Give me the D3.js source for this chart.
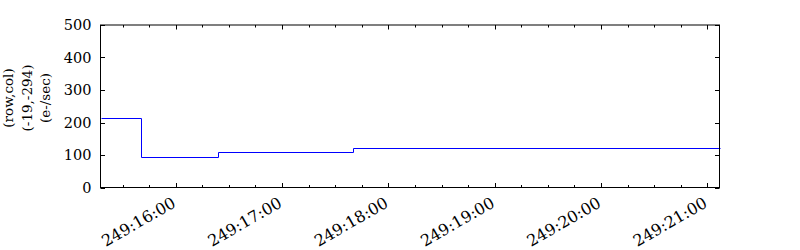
<!DOCTYPE html>
<html>
<head>
<meta charset="utf-8">
<script src="https://cdn.jsdelivr.net/npm/d3@7"></script>
<style>
  body { margin: 0; background: #fff; }
  text { font-family: "DejaVu Serif", serif; fill: #000; }
</style>
</head>
<body>
<script>
// day 249: step start times (hh:mm:ss) and count rate values
var stepTimes = ["15:17:33", "15:40:26", "16:24:00", "17:39:50"];
var stepValues = [214, 94, 109, 122];
var endTime = "21:06:53";
var yTicks = [0, 100, 200, 300, 400, 500];
var xTickTimes = ["16:00", "17:00", "18:00", "19:00", "20:00", "21:00"];
var xTickLabels = ["249:16:00", "249:17:00", "249:18:00", "249:19:00", "249:20:00", "249:21:00"];
var yLabelLines = ["(row,col)", "(-19,-294)", "(e-/sec)"];

var parseT = d3.utcParse("%H:%M:%S");
var parseTick = d3.utcParse("%H:%M");

var plotLeft = 100.5, plotRight = 719.5, plotTop = 25, plotBottom = 187.5;

var svg = d3.select("body")
    .append("svg")
    .attr("width", 800)
    .attr("height", 250);

svg.append("rect").attr("width", 800).attr("height", 250).attr("fill", "#fff");

var x = d3.scaleUtc()
    .domain([parseT(stepTimes[0]), parseT(endTime)])
    .range([plotLeft, plotRight]);
var y = d3.scaleLinear()
    .domain([0, 500])
    .range([plotBottom, plotTop]);

var points = stepTimes.map(function(t, i) { return {t: parseT(t), v: stepValues[i]}; });
points.push({t: parseT(endTime), v: stepValues[stepValues.length - 1]});

var line = d3.line()
    .x(function(d) { return Math.round(x(d.t)) + 0.5; })
    .y(function(d) { return Math.round(y(d.v)) + 0.5; })
    .curve(d3.curveStepAfter);

svg.append("path")
    .datum(points)
    .attr("d", line)
    .attr("fill", "none")
    .attr("stroke", "#0000ff")
    .attr("stroke-width", 1);

// ticks (inward, all four sides)
var majorT = xTickTimes.map(function(s) { return parseTick(s); });
var minorT = x.ticks(d3.utcMinute.every(15)).filter(function(d) { return d.getUTCMinutes() != 0; });
var ticks = svg.append("g").attr("stroke", "#000").attr("stroke-width", 1);

function vTick(px, len) {
    ticks.append("line").attr("x1", px).attr("x2", px).attr("y1", plotBottom).attr("y2", plotBottom - len);
    ticks.append("line").attr("x1", px).attr("x2", px).attr("y1", plotTop).attr("y2", plotTop + len);
}
majorT.forEach(function(d) { vTick(Math.round(x(d)) + 0.5, 4.5); });
minorT.forEach(function(d) { vTick(Math.round(x(d)) + 0.5, 2.5); });

yTicks.forEach(function(v) {
    var py = Math.round(y(v)) + 0.5;
    ticks.append("line").attr("x1", plotLeft).attr("x2", plotLeft + 4.5).attr("y1", py).attr("y2", py);
    ticks.append("line").attr("x1", plotRight).attr("x2", plotRight - 4.5).attr("y1", py).attr("y2", py);
});

// frame
svg.append("rect")
    .attr("x", plotLeft).attr("y", plotTop)
    .attr("width", plotRight - plotLeft).attr("height", plotBottom - plotTop)
    .attr("fill", "none").attr("stroke", "#000").attr("stroke-width", 1);

// y tick labels
svg.selectAll(".ylab")
    .data(yTicks)
    .enter()
    .append("text")
    .attr("x", plotLeft - 9)
    .attr("y", function(d) { return y(d); })
    .attr("dy", "0.36em")
    .attr("text-anchor", "end")
    .style("font-size", "14.5px")
    .text(function(d) { return d; });

// x tick labels, rotated
svg.selectAll(".xlab")
    .data(majorT)
    .enter()
    .append("text")
    .attr("transform", function(d) { return "translate(" + (x(d) - 5) + "," + (plotBottom + 8) + ") rotate(-30)"; })
    .attr("dy", "0.76em")
    .attr("text-anchor", "end")
    .style("font-size", "16px")
    .text(function(d, i) { return xTickLabels[i]; });

// y axis label, three lines
svg.selectAll(".ytitle")
    .data(yLabelLines)
    .enter()
    .append("text")
    .attr("transform", function(d, i) { return "translate(" + (13 + i * 18.7) + ",98) rotate(-90)"; })
    .attr("text-anchor", "middle")
    .style("font-size", "13.5px")
    .text(function(d) { return d; });
</script>
</body>
</html>
